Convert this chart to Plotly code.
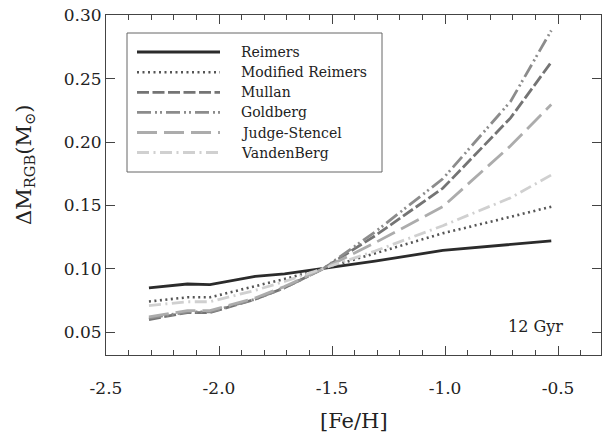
import plotly.graph_objects as go

# ---- data ----
feh = [-2.31, -2.14, -2.04, -1.84, -1.71, -1.54, -1.31, -1.01, -0.71, -0.53]
reimers = [0.085, 0.088, 0.0875, 0.094, 0.096, 0.100, 0.106, 0.1145, 0.1195, 0.122]
mod_reimers = [0.0742, 0.0775, 0.0775, 0.086, 0.092, 0.100, 0.112, 0.128, 0.141, 0.149]
mullan = [0.060, 0.0655, 0.0655, 0.076, 0.085, 0.100, 0.126, 0.1635, 0.219, 0.263]
goldberg = [0.061, 0.066, 0.066, 0.076, 0.085, 0.100, 0.129, 0.171, 0.232, 0.288]
judge_stencel = [0.062, 0.067, 0.067, 0.077, 0.086, 0.100, 0.1205, 0.149, 0.197, 0.2296]
vandenberg = [0.071, 0.074, 0.074, 0.083, 0.090, 0.100, 0.114, 0.134, 0.156, 0.174]

series_names = ["Reimers", "Modified Reimers", "Mullan", "Goldberg", "Judge-Stencel", "VandenBerg"]
series_values = [reimers, mod_reimers, mullan, goldberg, judge_stencel, vandenberg]

x_tickvals = [-2.5, -2.0, -1.5, -1.0, -0.5]
x_ticklabels = ["-2.5", "-2.0", "-1.5", "-1.0", "-0.5"]
y_tickvals = [0.05, 0.10, 0.15, 0.20, 0.25, 0.30]
y_ticklabels = ["0.05", "0.10", "0.15", "0.20", "0.25", "0.30"]

# ---- styles ----
colors = ["#2b2b2b", "#555555", "#747474", "#8c8c8c", "#acacac", "#d0d0d0"]
dashes = ["solid", "2px,3.5px", "12px,3.5px", "14px,4px,2px,3px,2px,4px", "20px,7px", "12px,4.5px,2px,4.5px"]
widths = [2.8, 2.6, 2.8, 2.8, 2.8, 2.8]

FONT = "DejaVu Serif"
AXC = "#444444"

x_range = [-2.5, -0.31]
y_range = [0.032, 0.3002]
x_minor = [round(-2.5 + 0.1 * i, 2) for i in range(0, 23)]
y_minor = [round(0.01 * i, 2) for i in range(4, 31)]

fig = go.Figure()
for name, vals, c, d, w in zip(series_names, series_values, colors, dashes, widths):
    fig.add_trace(go.Scatter(x=feh, y=vals, mode="lines", name=name,
                             line=dict(color=c, dash=d, width=w), showlegend=False))

W, H = 604, 439
L, R, T, B = 106, 3, 15, 84
pw, ph = W - L - R, H - T - B

def px_x(x):
    return (x - L) / pw

def px_y(y):
    return (H - B - y) / ph

shapes = []
annotations = []
# legend box
shapes.append(dict(type="rect", xref="paper", yref="paper",
                   x0=px_x(127), x1=px_x(382), y0=px_y(172), y1=px_y(33),
                   line=dict(color="#666666", width=1), fillcolor="rgba(0,0,0,0)"))
row_y = [52, 72.3, 92.3, 112.3, 132.5, 152.5]
for name, c, d, w, ry in zip(series_names, colors, dashes, widths, row_y):
    shapes.append(dict(type="line", xref="paper", yref="paper",
                       x0=px_x(137), x1=px_x(220), y0=px_y(ry), y1=px_y(ry),
                       line=dict(color=c, dash=d, width=w)))
    annotations.append(dict(xref="paper", yref="paper", x=px_x(239), y=px_y(ry),
                            text=name, showarrow=False, xanchor="left", yanchor="middle",
                            font=dict(family=FONT, size=14, color="#222222")))

annotations.append(dict(x=-0.60, y=0.0547, xref="x", yref="y", text="12 Gyr",
                        showarrow=False, xanchor="center", yanchor="middle",
                        font=dict(family=FONT, size=16, color="#222222")))
annotations.append(dict(xref="paper", yref="paper", x=px_x(25), y=px_y(165),
                        text="ΔM<sub>RGB</sub>(M<sub>⊙</sub>)", textangle=-90, showarrow=False,
                        xanchor="center", yanchor="middle",
                        font=dict(family=FONT, size=21, color="#222222")))
annotations.append(dict(xref="paper", yref="paper", x=px_x(354), y=px_y(421),
                        text="[Fe/H]", showarrow=False, xanchor="center", yanchor="middle",
                        font=dict(family=FONT, size=21, color="#222222")))

fig.update_layout(
    width=W, height=H,
    margin=dict(l=L, r=R, t=T, b=B, pad=0),
    paper_bgcolor="white", plot_bgcolor="white",
    xaxis=dict(range=x_range, tickvals=x_tickvals, ticktext=x_ticklabels,
               showgrid=False, zeroline=False, showline=True, linecolor=AXC, linewidth=1,
               mirror="allticks", ticks="inside", tickcolor=AXC, tickwidth=1, ticklen=9,
               ticklabelstandoff=18,
               minor=dict(tickmode="array", tickvals=x_minor, ticks="inside", ticklen=5,
                          tickcolor=AXC, showgrid=False),
               tickfont=dict(family=FONT, size=17, color="#222222")),
    yaxis=dict(range=y_range, tickvals=y_tickvals, ticktext=y_ticklabels,
               showgrid=False, zeroline=False, showline=True, linecolor=AXC, linewidth=1,
               mirror="all", ticks="inside", tickcolor=AXC, tickwidth=1, ticklen=9,
               tickfont=dict(family=FONT, size=17, color="#222222")),
    shapes=shapes,
    annotations=annotations,
)

fig.write_html("out.html", config={"displayModeBar": False},
               post_script="document.body.style.margin='0px';")
